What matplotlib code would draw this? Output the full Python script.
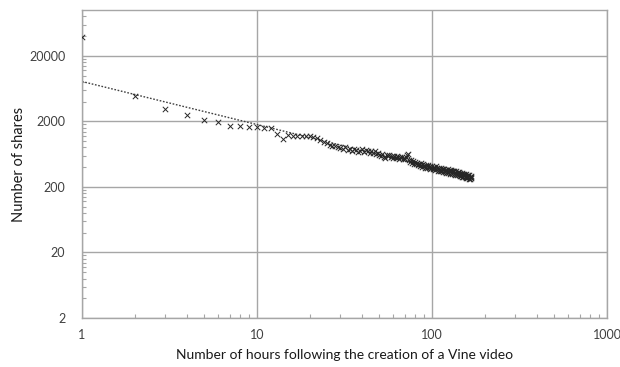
import numpy as np
import matplotlib
matplotlib.use('Agg')
from matplotlib import pyplot as plt
from matplotlib.ticker import FixedLocator, NullFormatter

plt.rcParams['font.family'] = ['Lato', 'DejaVu Sans']

# shares per hour after the video was created (hours 1..168)
shares = [
    39000, 4900, 3100, 2500, 2070, 1930, 1720, 1720, 1620, 1620,
    1570, 1570, 1270, 1070, 1230, 1200, 1210, 1190, 1180, 1200,
    1150, 1120, 1040, 980, 920, 880, 850, 830, 800, 790,
    770, 820, 735, 760, 710, 765, 730, 690, 715, 745,
    680, 725, 700, 665, 695, 655, 705, 640, 650, 620,
    595, 645, 575, 555, 605, 585, 615, 565, 600, 555,
    585, 545, 595, 565, 540, 570, 580, 530, 560, 525,
    565, 605, 625, 515, 480, 510, 465, 495, 450, 480,
    445, 470, 425, 455, 415, 460, 430, 405, 445, 420,
    390, 430, 405, 385, 425, 400, 375, 415, 395, 420,
    375, 405, 385, 365, 410, 370, 395, 355, 385, 365,
    345, 385, 350, 375, 335, 370, 380, 340, 365, 330,
    360, 335, 370, 325, 355, 365, 320, 350, 360, 315,
    345, 355, 310, 350, 330, 305, 345, 320, 300, 340,
    320, 300, 335, 290, 325, 310, 295, 330, 285, 315,
    285, 320, 300, 280, 305, 275, 310, 290, 270, 305,
    285, 265, 300, 280, 260, 295, 270, 285,
]
hours = np.arange(1, len(shares) + 1)

x_ticks = [1, 10, 100, 1000]
y_ticks = [2, 20, 200, 2000, 20000]

# power law trend line (fit in log-log space)
slope, icpt = np.polyfit(np.log10(hours), np.log10(shares), 1)
trend_x = np.array([hours[0], hours[-1]])
trend_y = 10 ** (icpt + slope * np.log10(trend_x))

fig = plt.figure(figsize=(6.2, 3.67), dpi=100)
ax = fig.add_axes([82 / 620, 1 - 318 / 367, (607 - 82) / 620, (318 - 10) / 367])

grid_c = '#a6a6a6'
ax.plot(trend_x, trend_y, color='#404040', lw=1.0, ls=(0, (1.2, 1.2)), zorder=2)
ax.scatter(hours, shares, marker='x', s=15, c='#262626', linewidths=0.7, zorder=3)

ax.set_xscale('log')
ax.set_yscale('log')
ax.set_xlim(1, 1000)
ax.set_ylim(2, 100000)

ax.xaxis.set_major_locator(FixedLocator(x_ticks))
ax.yaxis.set_major_locator(FixedLocator(y_ticks))
ax.set_xticklabels([str(v) for v in x_ticks])
ax.set_yticklabels([str(v) for v in y_ticks])

x_minor = [m * 10 ** k for k in range(3) for m in range(2, 10)]
y_minor = [2 * m * 10 ** k for k in range(5) for m in range(2, 10) if 2 * m * 10 ** k < 100000]
ax.xaxis.set_minor_locator(FixedLocator(x_minor))
ax.yaxis.set_minor_locator(FixedLocator(y_minor))
ax.xaxis.set_minor_formatter(NullFormatter())
ax.yaxis.set_minor_formatter(NullFormatter())

ax.tick_params(which='major', length=0, labelsize=9, colors='#404040', pad=12)
ax.tick_params(which='minor', direction='in', length=3, width=0.8, color=grid_c)
ax.tick_params(axis='x', which='major', pad=8)

ax.grid(True, which='major', color=grid_c, lw=1.0)
for sp in ax.spines.values():
    sp.set_color(grid_c)
    sp.set_linewidth(1.0)

ax.set_xlabel('Number of hours following the creation of a Vine video', fontsize=10, color='#1a1a1a', labelpad=6)
ax.set_ylabel('Number of shares', fontsize=10.5, color='#1a1a1a', labelpad=2)

fig.savefig('out.png', dpi=100)
